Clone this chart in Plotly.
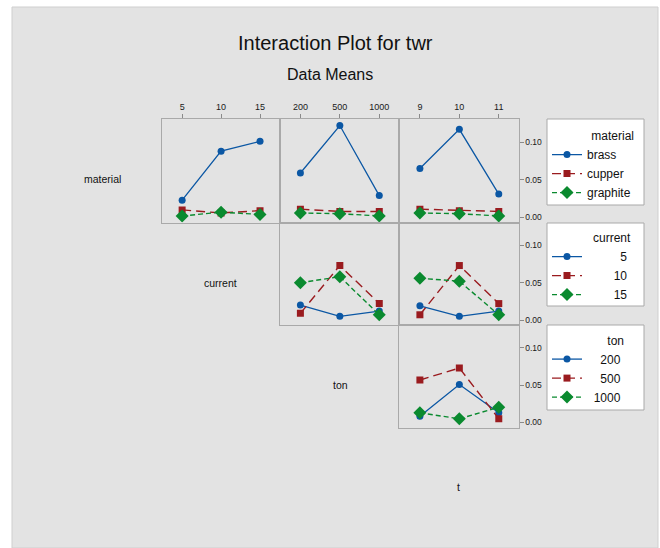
import plotly.graph_objects as go

# Factor levels
material_levels = ["brass", "cupper", "graphite"]
current_levels = ["5", "10", "15"]
ton_levels = ["200", "500", "1000"]
t_levels = ["9", "10", "11"]

# Mean twr for material, by current / ton / t
brass_by_current = [0.023, 0.088, 0.101]
cupper_by_current = [0.010, 0.006, 0.009]
graphite_by_current = [0.002, 0.007, 0.004]
brass_by_ton = [0.059, 0.122, 0.029]
cupper_by_ton = [0.011, 0.008, 0.008]
graphite_by_ton = [0.006, 0.005, 0.002]
brass_by_t = [0.065, 0.117, 0.031]
cupper_by_t = [0.011, 0.009, 0.008]
graphite_by_t = [0.006, 0.005, 0.002]

# Mean twr for current, by ton / t
current5_by_ton = [0.020, 0.005, 0.012]
current10_by_ton = [0.009, 0.073, 0.022]
current15_by_ton = [0.050, 0.058, 0.007]
current5_by_t = [0.019, 0.005, 0.012]
current10_by_t = [0.007, 0.073, 0.022]
current15_by_t = [0.056, 0.052, 0.007]

# Mean twr for ton, by t
ton200_by_t = [0.0085, 0.051, 0.013]
ton500_by_t = [0.057, 0.073, 0.005]
ton1000_by_t = [0.013, 0.005, 0.0205]

W, H = 660, 548
FONT = "Liberation Sans, Arial, sans-serif"
FS = "\u2007"  # figure space, same width as a digit

BLUE, RED, GREEN = "#0b57a4", "#9a1b1f", "#0a8a2f"
STYLES = [
    dict(color=BLUE, symbol="circle", size=7, dash="solid", width=1.3),
    dict(color=RED, symbol="square", size=7, dash="9px,5px", width=1.4),
    dict(color=GREEN, symbol="diamond", size=10, dash="5px,3px", width=1.4),
]

COLS = [(161.5, 279.5), (279.5, 399.0), (399.0, 518.5)]
ROWS = [(119.0, 222.5), (222.5, 325.0), (325.0, 427.5)]
YRANGE = [-0.0067, 0.1307]
XRANGE = [-0.53, 2.5]


def px_x(v):
    return v / W


def px_y(v):
    return 1 - v / H


def pad(levels, width):
    return [FS * (width - len(s)) + s for s in levels]


material_names = material_levels
current_names = pad(current_levels, 6)
ton_names = pad(ton_levels, 5)

panels = [
    (0, 0, current_levels, "legend", material_names,
     [brass_by_current, cupper_by_current, graphite_by_current]),
    (0, 1, ton_levels, "legend", material_names,
     [brass_by_ton, cupper_by_ton, graphite_by_ton]),
    (0, 2, t_levels, "legend", material_names,
     [brass_by_t, cupper_by_t, graphite_by_t]),
    (1, 1, ton_levels, "legend2", current_names,
     [current5_by_ton, current10_by_ton, current15_by_ton]),
    (1, 2, t_levels, "legend2", current_names,
     [current5_by_t, current10_by_t, current15_by_t]),
    (2, 2, t_levels, "legend3", ton_names,
     [ton200_by_t, ton500_by_t, ton1000_by_t]),
]

fig = go.Figure()
layout = {}
shown = set()

for i, (r, c, xlev, leg, names, series) in enumerate(panels, start=1):
    xa, ya = f"x{i}", f"y{i}"
    first = leg not in shown
    shown.add(leg)
    for name, vals, st in zip(names, series, STYLES):
        fig.add_trace(go.Scatter(
            x=xlev, y=vals, xaxis=xa, yaxis=ya, name=name, legend=leg,
            showlegend=first, mode="lines+markers",
            line=dict(color=st["color"], dash=st["dash"], width=st["width"]),
            marker=dict(color=st["color"], symbol=st["symbol"], size=st["size"]),
        ))
    x0, x1 = COLS[c]
    y0, y1 = ROWS[r]
    top_row = r == 0
    right_col = c == 2
    layout[f"xaxis{i}"] = dict(
        domain=[px_x(x0), px_x(x1)], anchor=ya, type="category",
        range=XRANGE, side="top", showgrid=False, zeroline=False,
        showline=True, mirror=True, linecolor="#a9a9a9", linewidth=1,
        ticks="outside" if top_row else "", ticklen=4, tickcolor="#8a8a8a",
        showticklabels=top_row, tickfont=dict(size=9, color="#1a1a1a"),
    )
    layout[f"yaxis{i}"] = dict(
        domain=[px_y(y1), px_y(y0)], anchor=xa, range=YRANGE,
        side="right", showgrid=False, zeroline=False,
        showline=True, mirror=True, linecolor="#a9a9a9", linewidth=1,
        tickvals=[0, 0.05, 0.10], tickformat=".2f",
        ticks="outside" if right_col else "", ticklen=4, tickcolor="#8a8a8a",
        showticklabels=right_col, tickfont=dict(size=8.5, color="#1a1a1a"),
    )

legend_common = dict(
    bgcolor="rgba(0,0,0,0)", borderwidth=0, xanchor="left", yanchor="top",
    x=px_x(547), font=dict(size=12, color="#111111"), itemwidth=30,
    tracegroupgap=0,
)
title_font = dict(size=12, color="#111111")
layout["legend"] = dict(legend_common, y=px_y(124.5),
                        title=dict(text="material", side="top right",
                                   font=title_font))
layout["legend2"] = dict(legend_common, y=px_y(226.5),
                         title=dict(text="current", side="top right",
                                    font=title_font))
layout["legend3"] = dict(legend_common, y=px_y(329),
                         title=dict(text="ton", side="top right",
                                    font=title_font))

shapes = [
    dict(type="rect", xref="paper", yref="paper", layer="below",
         x0=px_x(12), x1=px_x(658), y0=px_y(548), y1=px_y(7),
         fillcolor="#e3e3e3", line=dict(color="#cfcfcf", width=1)),
]
for top, bot in [(119, 205), (223, 306), (325, 410)]:
    shapes.append(dict(type="rect", xref="paper", yref="paper", layer="below",
                       x0=px_x(547), x1=px_x(644), y0=px_y(bot), y1=px_y(top),
                       fillcolor="white", line=dict(color="#a9a9a9", width=1)))

annotations = [
    dict(text="Interaction Plot for twr", x=px_x(335), y=px_y(43),
         font=dict(size=20, color="#111111")),
    dict(text="Data Means", x=px_x(330), y=px_y(74),
         font=dict(size=16, color="#111111")),
    dict(text="material", x=px_x(102), y=px_y(179), font=dict(size=10.5)),
    dict(text="current", x=px_x(220.5), y=px_y(283), font=dict(size=10.5)),
    dict(text="ton", x=px_x(340.5), y=px_y(385), font=dict(size=10.5)),
    dict(text="t", x=px_x(458.5), y=px_y(487), font=dict(size=10.5)),
]
for a in annotations:
    a.update(xref="paper", yref="paper", showarrow=False,
             xanchor="center", yanchor="middle")

fig.update_layout(
    width=W, height=H, autosize=False,
    margin=dict(l=0, r=0, t=0, b=0),
    paper_bgcolor="white", plot_bgcolor="white",
    font=dict(family=FONT, color="#111111"),
    shapes=shapes, annotations=annotations,
    **layout,
)

fig.write_html("out.html")
